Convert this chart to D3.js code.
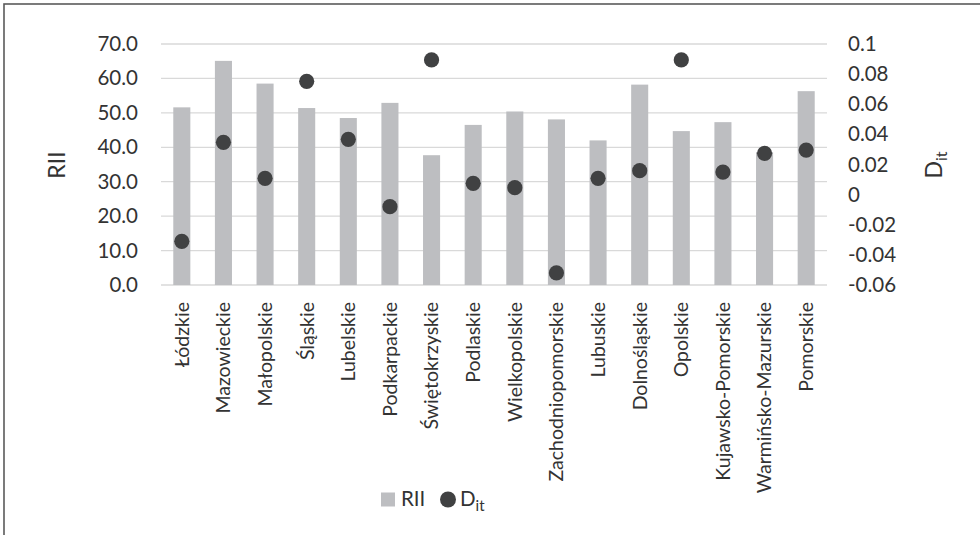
<!DOCTYPE html>
<html>
<head>
<meta charset="utf-8">
<script src="https://cdn.jsdelivr.net/npm/d3@7"></script>
<style>
  html, body { margin: 0; padding: 0; background: #fff; }
  svg { display: block; font-family: Lato, "Open Sans", sans-serif; }
</style>
</head>
<body>
<svg id="chart" width="980" height="535"></svg>
<script>
const categories = ["Łódzkie","Mazowieckie","Małopolskie","Śląskie","Lubelskie","Podkarpackie","Świętokrzyskie","Podlaskie","Wielkopolskie","Zachodniopomorskie","Lubuskie","Dolnośląskie","Opolskie","Kujawsko-Pomorskie","Warmińsko-Mazurskie","Pomorskie"];
const riiValues = [51.6, 65.1, 58.5, 51.4, 48.5, 52.9, 37.7, 46.5, 50.4, 48.1, 42.0, 58.2, 44.7, 47.3, 38.6, 56.3];
const ditValues = [-0.031, 0.0347, 0.0108, 0.0752, 0.0367, -0.008, 0.0894, 0.0075, 0.0046, -0.052, 0.0108, 0.0159, 0.0894, 0.015, 0.0274, 0.0296];
const leftTicks = [0, 10, 20, 30, 40, 50, 60, 70];
const rightTicks = [-0.06, -0.04, -0.02, 0, 0.02, 0.04, 0.06, 0.08, 0.1];
const rightTickLabels = ["-0.06", "-0.04", "-0.02", "0", "0.02", "0.04", "0.06", "0.08", "0.1"];

const svg = d3.select("#chart");
const plot = { left: 161, right: 827, top: 44, bottom: 285 };
const textColor = "#333333";

// chart border (cropped at right/bottom)
svg.append("rect").attr("x", 4).attr("y", 4).attr("width", 1000).attr("height", 560)
  .attr("fill", "none").attr("stroke", "#5a5a5a").attr("stroke-width", 1.6);

const x = d3.scaleBand().domain(categories).range([plot.left, plot.right])
  .paddingInner(0.59).paddingOuter(0.295);
const yL = d3.scaleLinear().domain([0, 70]).range([plot.bottom, plot.top]);
const yR = d3.scaleLinear().domain([-0.06, 0.1]).range([plot.bottom, plot.top]);

// gridlines
svg.append("g").selectAll("line").data(leftTicks).join("line")
  .attr("x1", plot.left).attr("x2", plot.right)
  .attr("y1", d => yL(d)).attr("y2", d => yL(d))
  .attr("stroke", "#d9d9d9").attr("stroke-width", 1.3);

// left axis
const gL = svg.append("g").attr("transform", `translate(${plot.left},0)`)
  .call(d3.axisLeft(yL).tickValues(leftTicks).tickFormat(d3.format(".1f")).tickSize(0).tickPadding(23));
gL.select(".domain").remove();
gL.selectAll("text").attr("font-size", 20.5).attr("fill", textColor).attr("font-family", "Lato, sans-serif");

// right axis
const gR = svg.append("g").attr("transform", `translate(${plot.right},0)`)
  .call(d3.axisRight(yR).tickValues(rightTicks).tickFormat((d, i) => rightTickLabels[i]).tickSize(0).tickPadding(21));
gR.select(".domain").remove();
gR.selectAll("text").attr("font-size", 20.5).attr("fill", textColor).attr("font-family", "Lato, sans-serif");

// bars
svg.append("g").selectAll("rect").data(riiValues).join("rect")
  .attr("x", (d, i) => x(categories[i]))
  .attr("width", x.bandwidth())
  .attr("y", d => yL(d))
  .attr("height", d => yL(0) - yL(d))
  .attr("fill", "#bdbec1");

// dots
svg.append("g").selectAll("circle").data(ditValues).join("circle")
  .attr("cx", (d, i) => x(categories[i]) + x.bandwidth() / 2)
  .attr("cy", d => yR(d))
  .attr("r", 7.6)
  .attr("fill", "#404142");

// category labels
svg.append("g").selectAll("text").data(categories).join("text")
  .attr("transform", d => `translate(${x(d) + x.bandwidth() / 2},302) rotate(-90)`)
  .attr("dy", "0.35em")
  .attr("text-anchor", "end")
  .attr("font-size", 19.5)
  .attr("fill", textColor)
  .text(d => d);

// axis titles
svg.append("text")
  .attr("transform", "translate(57,165) rotate(-90)")
  .attr("dy", "0.35em").attr("text-anchor", "middle")
  .attr("font-size", 23).attr("fill", textColor).text("RII");

const dt = svg.append("text")
  .attr("transform", "translate(934,165) rotate(-90)")
  .attr("dy", "0.35em").attr("text-anchor", "middle")
  .attr("font-size", 23).attr("fill", textColor);
dt.append("tspan").text("D");
dt.append("tspan").attr("font-size", 16).attr("dy", "0.3em").text("it");

// legend
const lg = svg.append("g");
lg.append("rect").attr("x", 381).attr("y", 492.5).attr("width", 14).attr("height", 14).attr("fill", "#bdbec1");
lg.append("text").attr("x", 401).attr("y", 506).attr("font-size", 20.5).attr("fill", textColor).text("RII");
lg.append("circle").attr("cx", 448).attr("cy", 499.5).attr("r", 8).attr("fill", "#404142");
const lt = lg.append("text").attr("x", 460).attr("y", 506).attr("font-size", 20.5).attr("fill", textColor);
lt.append("tspan").text("D");
lt.append("tspan").attr("font-size", 15).attr("dy", "0.3em").text("it");
</script>
</body>
</html>
